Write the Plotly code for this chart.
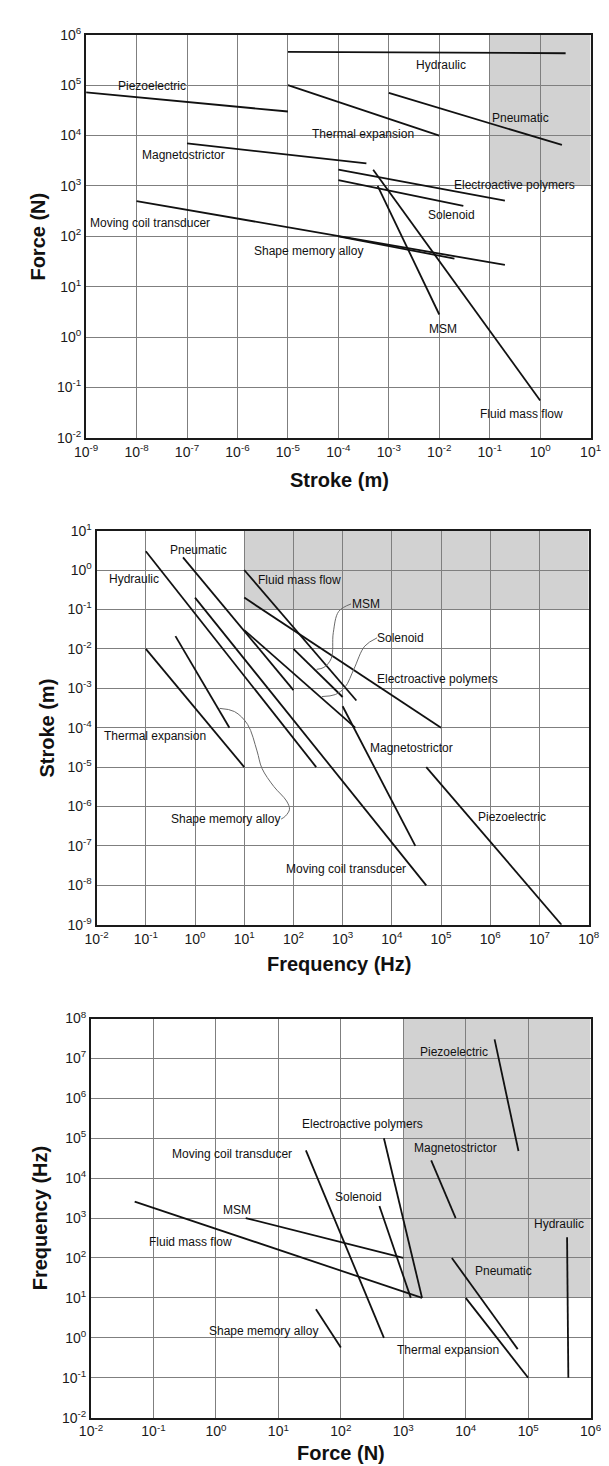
import numpy as np
import plotly.graph_objects as go

# ---------------- data ----------------
names = ["Hydraulic", "Piezoelectric", "Thermal expansion", "Pneumatic", "Magnetostrictor",
         "Electroactive polymers", "Solenoid", "MSM", "Fluid mass flow",
         "Moving coil transducer", "Shape memory alloy"]

# Chart 1: Force (N) vs Stroke (m)
fs_stroke_start = [1e-5, 1e-9, 1e-5, 1e-3, 1e-7, 1e-4, 1e-4, 6e-4, 4.9e-4, 1e-8, 1e-4]
fs_stroke_end = [3.2, 1e-5, 1e-2, 2.7, 3.6e-4, 0.2, 0.03, 1e-2, 1.0, 0.2, 0.02]
fs_force_start = [4.6e5, 7.2e4, 1e5, 7e4, 7e3, 2.1e3, 1.3e3, 1e3, 2.1e3, 500, 100]
fs_force_end = [4.3e5, 3e4, 1e4, 6.5e3, 2.8e3, 510, 400, 2.8, 0.055, 27, 36]

# Chart 2: Stroke (m) vs Frequency (Hz)
sf_freq_start = [0.1, 5e4, 0.1, 0.57, 1e3, 10, 10, 100, 10, 1, 0.4]
sf_freq_end = [290, 2.8e7, 10, 100, 3e4, 1e5, 1800, 1e3, 1900, 5e4, 5]
sf_stroke_start = [3, 1e-5, 1e-2, 2.1, 3.5e-4, 0.2, 0.03, 1e-2, 1.0, 0.2, 0.021]
sf_stroke_end = [1e-5, 1e-9, 1e-5, 9e-4, 1e-7, 1e-4, 1e-4, 6e-4, 4.9e-4, 1e-8, 1e-4]

# Chart 3: Frequency (Hz) vs Force (N)
ff_force_start = [4.2e5, 2.9e4, 1e4, 6e3, 2.8e3, 490, 415, 3, 0.05, 27.6, 40]
ff_force_end = [4.4e5, 7e4, 1e5, 6.8e4, 6.9e3, 2000, 1320, 1e3, 2000, 490, 100]
ff_freq_start = [330, 3e7, 10, 100, 2.8e4, 1e5, 2000, 1e3, 2.6e3, 5e4, 5.2]
ff_freq_end = [0.1, 4.8e4, 0.1, 0.52, 1e3, 10, 10, 100, 10, 1, 0.57]

# label anchor points (log10 coordinates)
fs_label_x = [-1.97, -7.69, -3.52, -0.39, -7.06, -0.50, -1.75, -1.93, -0.36, -7.74, -4.59]
fs_label_y = [5.41, 4.99, 4.04, 4.35, 3.61, 3.01, 2.42, 0.15, -1.53, 2.27, 1.70]
sf_label_x = [-1.24, 6.45, -0.81, 0.08, 4.40, 4.93, 4.17, 3.48, 2.12, 3.06, 0.61]
sf_label_y = [-0.22, -6.26, -4.20, 0.51, -4.52, -2.77, -1.72, -0.86, -0.25, -7.59, -6.31]
ff_label_x = [5.49, 3.82, 3.72, 4.60, 3.84, 2.35, 2.28, 0.33, -0.40, 0.25, 0.76]
ff_label_y = [2.86, 7.16, -0.31, 1.67, 4.76, 5.35, 3.52, 3.20, 2.40, 4.60, 0.17]

# leader curves in chart 2 (log10 coordinates)
msm_leader_x = [3.17, 2.92, 2.81, 2.77, 2.62, 2.47]
msm_leader_y = [-0.86, -1.05, -1.59, -2.24, -2.47, -2.52]
sol_leader_x = [3.70, 3.45, 3.23, 3.05, 2.85, 2.58]
sol_leader_y = [-1.72, -1.93, -2.51, -2.97, -3.16, -3.21]
sma_leader_x = [0.50, 0.80, 1.07, 1.26, 1.36, 1.60, 1.86, 1.92, 1.84, 1.75]
sma_leader_y = [-3.51, -3.59, -3.92, -4.59, -5.03, -5.49, -5.86, -6.07, -6.24, -6.32]

# ticks
fs_xticks = list(range(-9, 2))
fs_yticks = list(range(-2, 7))
sf_xticks = list(range(-2, 9))
sf_yticks = list(range(-9, 2))
ff_xticks = list(range(-2, 7))
ff_yticks = list(range(-2, 9))

# highlighted regions (data values)
fs_region = dict(x=[0.1, 10], y=[1e3, 1e6])
sf_region = dict(x=[10, 1e8], y=[0.1, 10])
ff_region = dict(x=[1e3, 1e6], y=[10, 1e8])

# ---------------- figure ----------------
W, H = 609, 1466
FONT = "Liberation Sans, Arial, sans-serif"
fig = go.Figure()

def px_x(p):
    return p / W

def px_y(p):
    return 1 - p / H

panels = [
    dict(xd=[px_x(68.7), px_x(593.0)], yd=[px_y(425), px_y(17)], xt=fs_xticks, yt=fs_yticks),
    dict(xd=[px_x(79.6), px_x(591.0)], yd=[px_y(918), px_y(519)], xt=sf_xticks, yt=sf_yticks),
    dict(xd=[px_x(73.8), px_x(593.0)], yd=[px_y(1417), px_y(1013)], xt=ff_xticks, yt=ff_yticks),
]

def tick_text(ks):
    return ["10<sup>%d</sup>" % k for k in ks]

layout_axes = {}
for i, p in enumerate(panels):
    suffix = "" if i == 0 else str(i + 1)
    common = dict(type="log", showgrid=True, gridcolor="#7f7f7f", gridwidth=1.2,
                  showline=True, linecolor="#1a1a1a", linewidth=2, mirror=True,
                  ticks="", zeroline=False,
                  tickfont=dict(family=FONT, size=14, color="#1a1a1a"))
    layout_axes["xaxis" + suffix] = dict(common, domain=p["xd"], anchor="y" + suffix,
                                         range=[p["xt"][0], p["xt"][-1]],
                                         tickvals=[10.0 ** k for k in p["xt"]],
                                         ticktext=tick_text(p["xt"]))
    layout_axes["yaxis" + suffix] = dict(common, domain=p["yd"], anchor="x" + suffix,
                                         range=[p["yt"][0], p["yt"][-1]],
                                         tickvals=[10.0 ** k for k in p["yt"]],
                                         ticktext=tick_text(p["yt"]))

line_style = dict(color="#111111", width=1.8)

def add_segments(xa, ya, xs0, xs1, ys0, ys1):
    for n, a, b, c, d in zip(names, xs0, xs1, ys0, ys1):
        fig.add_trace(go.Scatter(x=[a, b], y=[c, d], mode="lines", line=line_style,
                                 name=n, showlegend=False, hoverinfo="name",
                                 xaxis=xa, yaxis=ya))

add_segments("x", "y", fs_stroke_start, fs_stroke_end, fs_force_start, fs_force_end)
add_segments("x2", "y2", sf_freq_start, sf_freq_end, sf_stroke_start, sf_stroke_end)
add_segments("x3", "y3", ff_force_start, ff_force_end, ff_freq_start, ff_freq_end)

for lx, ly in [(msm_leader_x, msm_leader_y), (sol_leader_x, sol_leader_y),
               (sma_leader_x, sma_leader_y)]:
    fig.add_trace(go.Scatter(x=[10 ** v for v in lx], y=[10 ** v for v in ly],
                             mode="lines", line=dict(color="#6a6a6a", width=1, shape="spline"),
                             showlegend=False, hoverinfo="skip", xaxis="x2", yaxis="y2"))

shapes = []
for reg, xa, ya in [(fs_region, "x", "y"), (sf_region, "x2", "y2"), (ff_region, "x3", "y3")]:
    shapes.append(dict(type="rect", xref=xa, yref=ya, x0=reg["x"][0], x1=reg["x"][1],
                       y0=reg["y"][0], y1=reg["y"][1], fillcolor="#d2d2d2",
                       line=dict(width=0), layer="below"))

annotations = []
for lxs, lys, xa, ya in [(fs_label_x, fs_label_y, "x", "y"),
                         (sf_label_x, sf_label_y, "x2", "y2"),
                         (ff_label_x, ff_label_y, "x3", "y3")]:
    for n, lx, ly in zip(names, lxs, lys):
        annotations.append(dict(x=lx, y=ly, xref=xa, yref=ya, text=n, showarrow=False,
                                font=dict(family=FONT, size=12, color="#111"),
                                xanchor="center", yanchor="middle"))

title_font = dict(family=FONT, size=20, color="#111")
for txt, x, y, ang in [("<b>Force (N)</b>", 19, 221, -90),
                       ("<b>Stroke (m)</b>", 332, 468, 0),
                       ("<b>Stroke (m)</b>", 28, 718.5, -90),
                       ("<b>Frequency (Hz)</b>", 332, 958, 0),
                       ("<b>Frequency (Hz)</b>", 21, 1215, -90),
                       ("<b>Force (N)</b>", 334, 1453, 0)]:
    annotations.append(dict(x=px_x(x), y=px_y(y), xref="paper", yref="paper", text=txt,
                            showarrow=False, font=title_font, textangle=ang,
                            xanchor="center", yanchor="middle"))

fig.update_layout(width=W, height=H, margin=dict(l=0, r=0, t=0, b=0),
                  paper_bgcolor="white", plot_bgcolor="white",
                  shapes=shapes, annotations=annotations, **layout_axes)

fig.write_html("out.html")
